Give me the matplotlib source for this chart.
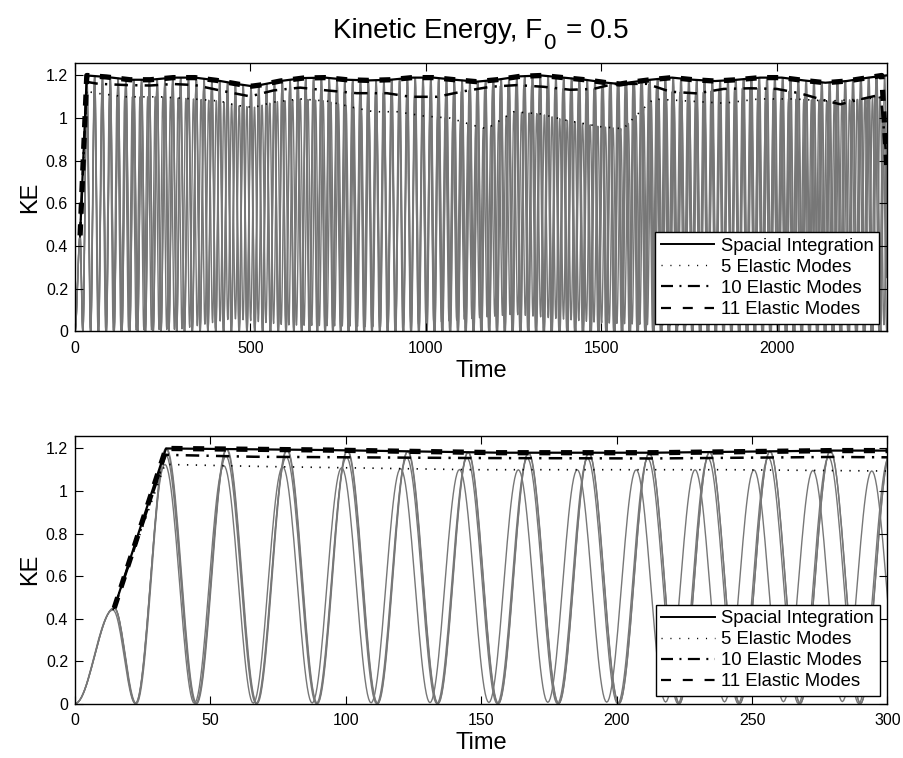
import numpy as np
import matplotlib
matplotlib.use("Agg")
import matplotlib.pyplot as plt
from matplotlib.lines import Line2D

plt.rcParams["font.family"] = ["Liberation Sans", "DejaVu Sans"]

# ---------------------------------------------------------------------------
# Peak envelopes (KE at successive oscillation maxima) for each model
# ---------------------------------------------------------------------------
t_env_spatial = [14.5, 33.6, 90, 157, 214, 280, 342, 404, 470, 504, 527, 585,
                 651, 713, 775, 837, 899, 961, 1022, 1083, 1145, 1202, 1269,
                 1330, 1392, 1454, 1516, 1554, 1583, 1640, 1702, 1763, 1825,
                 1887, 1953, 2015, 2077, 2139, 2200, 2262, 2312]
ke_env_spatial = [0.45, 1.20, 1.193, 1.18, 1.18, 1.19, 1.19, 1.177, 1.158,
                  1.15, 1.155, 1.174, 1.188, 1.19, 1.18, 1.177, 1.18, 1.19,
                  1.19, 1.18, 1.171, 1.18, 1.196, 1.20, 1.19, 1.18, 1.166,
                  1.16, 1.168, 1.18, 1.19, 1.18, 1.174, 1.18, 1.19, 1.19,
                  1.177, 1.166, 1.174, 1.19, 1.20]

t_env_m11 = t_env_spatial[:-1] + [2300, 2314]
ke_env_m11 = ke_env_spatial[:-1] + [1.20, 0.78]

t_env_m10 = [14.5, 33.5, 66, 147, 214, 280, 342, 413, 499, 566, 642, 718, 803,
             889, 956, 1032, 1108, 1184, 1260, 1336, 1412, 1478, 1535, 1630,
             1697, 1773, 1849, 1925, 2001, 2068, 2144, 2182, 2230, 2297, 2314]
ke_env_m10 = [0.45, 1.17, 1.161, 1.155, 1.153, 1.16, 1.155, 1.13, 1.102, 1.13,
              1.143, 1.13, 1.117, 1.117, 1.10, 1.10, 1.126, 1.147, 1.155,
              1.147, 1.133, 1.137, 1.16, 1.161, 1.124, 1.116, 1.137, 1.14,
              1.137, 1.116, 1.08, 1.065, 1.085, 1.11, 0.80]

t_env_m5 = [14, 33.2, 70, 147, 242, 337, 413, 460, 508, 566, 642, 718, 794,
            851, 918, 994, 1070, 1136, 1174, 1250, 1326, 1400, 1497, 1563,
            1592, 1649, 1750, 1850, 1950, 2050, 2150, 2250, 2314]
ke_env_m5 = [0.44, 1.125, 1.115, 1.10, 1.10, 1.09, 1.08, 1.06, 1.05, 1.075,
             1.09, 1.08, 1.05, 1.03, 1.03, 1.01, 1.00, 0.966, 0.95, 1.03, 1.02,
             0.99, 0.96, 0.95, 1.0, 1.09, 1.08, 1.07, 1.09, 1.09, 1.08, 1.09,
             1.10]

# Minima between peaks (5-mode model does not return fully to rest)
t_trough_m5 = [0, 300, 450, 600, 900, 1250, 1500, 1800, 2100, 2314]
ke_trough_m5 = [0.0, 0.01, 0.06, 0.03, 0.02, 0.08, 0.04, 0.02, 0.05, 0.03]

# Oscillation timing: time of first full peak and peak-to-peak period
first_peak = {"spatial": 33.6, "m11": 33.8, "m10": 33.5, "m5": 33.2}
period = {"spatial": 22.3, "m11": 22.28, "m10": 22.25, "m5": 21.75}
t_end = 2314.0


def ke_history(key, t_env, ke_env, t_tr=None, ke_tr=None):
    """KE trace built from its successive maxima and minima, joined by
    half-cosine arcs."""
    p0, T = first_peak[key], period[key]
    ext_t = [0.0, t_env[0], p0 - T / 2]
    ext_v = [0.0, ke_env[0], 0.0]
    k = 0
    while True:
        tp = p0 + k * T
        if tp > t_end + T:
            break
        ext_t.append(tp)
        ext_v.append(float(np.interp(tp, t_env, ke_env)))
        tt = tp + T / 2
        ext_t.append(tt)
        ext_v.append(float(np.interp(tt, t_tr, ke_tr)) if t_tr is not None else 0.0)
        k += 1
    ts, vs = [], []
    for i in range(len(ext_t) - 1):
        s = np.linspace(0, 1, 24, endpoint=False)
        ts.append(ext_t[i] + s * (ext_t[i + 1] - ext_t[i]))
        vs.append(ext_v[i] + (ext_v[i + 1] - ext_v[i]) * (1 - np.cos(np.pi * s)) / 2)
    t = np.concatenate(ts)
    v = np.concatenate(vs)
    keep = t <= t_end
    return t[keep], v[keep]


series = [
    ke_history("spatial", t_env_spatial, ke_env_spatial),
    ke_history("m11", t_env_m11, ke_env_m11),
    ke_history("m10", t_env_m10, ke_env_m10),
    ke_history("m5", t_env_m5, ke_env_m5, t_trough_m5, ke_trough_m5),
]

legend_labels = ["Spacial Integration", "5 Elastic Modes",
                 "10 Elastic Modes", "11 Elastic Modes"]

W, H = 904, 758
fig = plt.figure(figsize=(W / 100, H / 100), dpi=100)
ax_top = fig.add_axes([75 / W, 1 - 331.3 / H, 811.7 / W, 268.6 / H])
ax_bot = fig.add_axes([75 / W, 1 - 703.6 / H, 812.5 / W, 267.9 / H])

gray = "#777777"
dotted = (0, (0.8, 4.5))
dashdot = (0, (5.4, 2.9, 0.9, 2.9))


def draw(ax, xlim, xticks):
    for t, v in series:
        ax.plot(t, v, color=gray, lw=1.0, zorder=1)
    ax.plot(t_env_spatial, ke_env_spatial, color="black", lw=1.6, zorder=3)
    ax.plot(t_env_m5, ke_env_m5, color="black", lw=1.2, linestyle=dotted,
            zorder=3)
    ax.plot(t_env_m10, ke_env_m10, color="black", lw=1.8, linestyle=dashdot,
            zorder=3)
    ax.plot(t_env_m11, ke_env_m11, color="black", lw=3.8,
            linestyle=(0, (2.1, 2.0)), zorder=4)
    ax.set_xlim(*xlim)
    ax.set_ylim(0, 1.26)
    ax.set_xticks(xticks)
    ax.set_yticks([0, 0.2, 0.4, 0.6, 0.8, 1.0, 1.2])
    ax.set_yticklabels(["0", "0.2", "0.4", "0.6", "0.8", "1", "1.2"])
    ax.tick_params(direction="in", length=5.8, width=0.8, top=True, right=True,
                   labelsize=11.5)
    ax.tick_params(axis="x", pad=7)
    ax.tick_params(axis="y", pad=5)
    for sp in ax.spines.values():
        sp.set_linewidth(1.0)
    ax.set_xlabel("Time", fontsize=17, labelpad=3)
    ax.set_ylabel("KE", fontsize=17, labelpad=3)
    handles = [
        Line2D([], [], color="black", lw=1.4),
        Line2D([], [], color="black", lw=1.0, linestyle=(0, (0.8, 5.6))),
        Line2D([], [], color="black", lw=1.6, linestyle=dashdot),
        Line2D([], [], color="black", lw=1.6, linestyle=(0, (4.5, 5.3))),
    ]
    leg = ax.legend(handles, legend_labels, loc="lower right", fontsize=13.3,
                    frameon=True, fancybox=False, framealpha=1, edgecolor="black",
                    borderpad=0.3, labelspacing=0.22, handlelength=2.9,
                    handletextpad=0.35, borderaxespad=0.42)
    leg.get_frame().set_linewidth(1.0)
    leg.set_zorder(10)


draw(ax_top, (0, 2314), [0, 500, 1000, 1500, 2000])
draw(ax_bot, (0, 300), [0, 50, 100, 150, 200, 250, 300])

# Title with a lowered subscript
base_y = 1 - 38 / H
parts = [fig.text(0, base_y, "Kinetic Energy, F", fontsize=20, va="baseline"),
         fig.text(0, base_y - 11 / H, "0", fontsize=16, va="baseline"),
         fig.text(0, base_y, "= 0.5", fontsize=20, va="baseline")]
gaps = [1, 10]
fig.canvas.draw()
renderer = fig.canvas.get_renderer()
widths = [p.get_window_extent(renderer).width for p in parts]
total = sum(widths) + sum(gaps)
x = 481 - total / 2
for p, w, g in zip(parts, widths, gaps + [0]):
    p.set_x(x / W)
    x += w + g

fig.savefig("out.png", dpi=100)
